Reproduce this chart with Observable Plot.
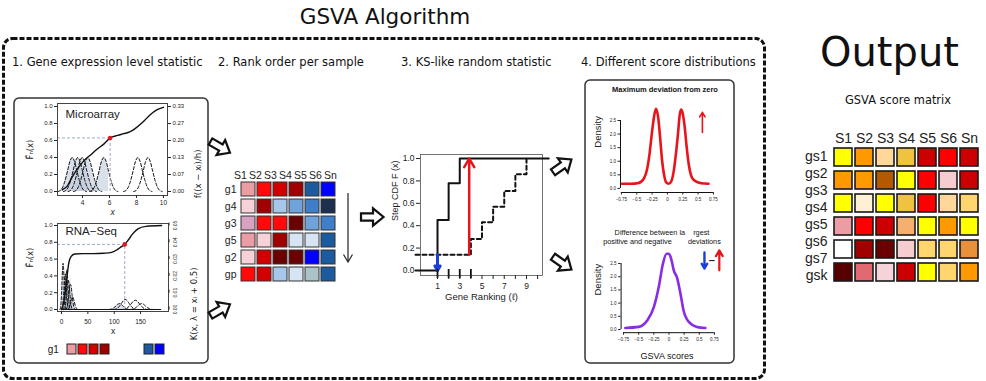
<!DOCTYPE html>
<html>
<head>
<meta charset="utf-8">
<script src="https://cdn.jsdelivr.net/npm/d3@7"></script>
<script src="https://cdn.jsdelivr.net/npm/@observablehq/plot@0.6"></script>
<style>
html, body { margin: 0; padding: 0; background: #fff; }
#root { position: relative; width: 986px; height: 381px; overflow: hidden; background: #fff; }
#root svg { display: block; }
.t { position: absolute; white-space: pre; color: #111; }
</style>
</head>
<body>
<div id="root"></div>
<script>
// ================= DATA =================
const mainTitle = "GSVA Algorithm";
const outputTitle = "Output";
const sectionTitles = ["1. Gene expression level statistic", "2. Rank order per sample", "3. KS-like random statistic", "4. Different score distributions"];
const matrixTitle = "GSVA score matrix";

// shared kernel profile (read from the bumps, normalised to peak 1)
const kernelOffsets = [-1, -0.833, -0.667, -0.5, -0.333, -0.167, 0, 0.167, 0.333, 0.5, 0.667, 0.833, 1];
const kernelShape   = [0, 0.03, 0.13, 0.33, 0.6, 0.88, 1, 0.88, 0.6, 0.33, 0.13, 0.03, 0];

// Panel 1a: microarray
const maX = [2.5, 2.9, 3.2, 3.6, 4.1, 4.6, 5.1, 5.6, 6.05, 6.6, 7.05, 7.5, 7.9, 8.5, 9.0, 9.5, 10.0];
const maF = [0.02, 0.07, 0.16, 0.26, 0.36, 0.43, 0.5, 0.56, 0.63, 0.66, 0.68, 0.7, 0.74, 0.82, 0.9, 0.96, 0.99];
const maQuery = [6.05];
const maQueryF = [0.63];
const maKernelCenters = [3.24, 3.65, 3.98, 4.39, 5.58, 8.1, 8.85];
const maKernelPeaks = [0.4, 0.4, 0.4, 0.4, 0.4, 0.4, 0.4];
const maKernelHalfWidths = [1.05, 1.05, 1.05, 1.05, 1.05, 1.05, 1.05];
const maXTicks = [4, 6, 8, 10];
const fTicks = [0, 0.2, 0.4, 0.6, 0.8, 1.0];
const fTickLabels = ["0.0", "0.2", "0.4", "0.6", "0.8", "1.0"];
const maKernelTickLabels = ["0.00", "0.07", "0.13", "0.20", "0.27", "0.33"];

// Panel 1b: RNA-Seq
const rnaX = [0, 4, 8, 11, 14, 18, 25, 40, 60, 80, 95, 105, 113, 120, 127, 135, 145, 160, 190];
const rnaF = [0, 0.08, 0.25, 0.42, 0.56, 0.63, 0.66, 0.665, 0.665, 0.67, 0.68, 0.71, 0.745, 0.775, 0.83, 0.9, 0.96, 0.99, 1.0];
const rnaQuery = [120];
const rnaQueryF = [0.775];
const rnaKernelCenters = [3, 7, 10, 13, 17, 21, 110, 121, 140, 152];
const rnaKernelPeaks = [0.55, 0.42, 0.47, 0.35, 0.3, 0.15, 0.07, 0.12, 0.11, 0.07];
const rnaKernelHalfWidths = [6, 7, 7, 8, 9, 10, 20, 22, 24, 22];
const rnaXTicks = [0, 50, 100, 150];
const rnaKernelTickLabels = ["0.00", "0.01", "0.02", "0.03", "0.04", "0.05"];

// Panel 2: rank order per sample (colour levels)
const rankHeaders = ["S1", "S2", "S3", "S4", "S5", "S6", "Sn"];
const rankCols = ["S1", "S2", "S3", "S4", "S5", "Sn"];
const rankGenes = ["g1", "g4", "g3", "g5", "g2", "gp"];
const rank_g1 = [1, 2, 3, 4, -4, -5];
const rank_g4 = [0, 4, -1, -2, -3, -6];
const rank_g3 = [0.8, 2, 2, 5, -2, -3];
const rank_g5 = [1, 0, 4, -0.5, -0.5, -4];
const rank_g2 = [0, 3, 5, 5, -5, -4];
const rank_gp = [2, 3, -1, -0.5, -0.7, -4];
const rankLevels = [5, 4, 3, 2, 1, 0.8, 0, -0.5, -0.7, -1, -2, -3, -4, -5, -6];
const rankPalette = ["#6a0000", "#a00000", "#d20000", "#ff0a0a", "#ec9ca4", "#d9a2c2", "#f6d2d8", "#d6e4f4", "#a9c3c8", "#a6c6ea", "#70a2dc", "#3f7ec8", "#1b5b9e", "#0000ff", "#1b2f4f"];
const legendSlots = ["S1", "S2", "S3", "S4", "…1", "…2", "…3", "S5", "Sn"];

// Panel 3: KS-like random walk
const ksTicks = [1, 2, 3, 4, 5, 6, 7, 8, 9, 10];
const ksTickLabels = ["1", "", "3", "", "5", "", "7", "", "9", ""];
const geneSetRanks = [1, 2, 3, 4];
const inSetX = [-0.98, 1, 2, 3, 11];
const inSetF = [0, 0.45, 0.78, 1.0, 1.0];
const outSetX = [-0.98, 4, 5, 6, 7, 8, 9];
const outSetF = [0.14, 0.28, 0.43, 0.57, 0.71, 0.86, 1.0];
const maxPosDev = [{x: 3.85, from: 0.14, to: 1.0}];
const maxNegDev = [{x: 1, from: 0.14, to: 0.0}];

// Panel 4: score distributions
const dens1X = [-0.74, -0.6, -0.47, -0.38, -0.33, -0.29, -0.25, -0.21, -0.185, -0.15, -0.12, -0.09, -0.05, -0.02, 0.02, 0.06, 0.1, 0.14, 0.17, 0.2, 0.22, 0.25, 0.28, 0.31, 0.35, 0.4, 0.47, 0.55, 0.67];
const dens1Y = [0.17, 0.17, 0.2, 0.38, 0.72, 1.3, 2.1, 2.75, 2.93, 2.6, 1.9, 1.1, 0.45, 0.22, 0.17, 0.25, 0.6, 1.3, 1.95, 2.7, 2.9, 2.75, 2.3, 1.6, 0.85, 0.4, 0.25, 0.19, 0.17];
const dens2X = [-0.72, -0.5, -0.36, -0.25, -0.17, -0.1, -0.04, 0.0, 0.04, 0.08, 0.13, 0.19, 0.24, 0.33, 0.46, 0.6];
const dens2Y = [0.06, 0.1, 0.34, 0.85, 1.6, 2.49, 2.87, 2.87, 2.64, 2.23, 1.98, 1.35, 0.72, 0.28, 0.1, 0.06];
const densXTicks = [-0.75, -0.5, -0.25, 0, 0.25, 0.5, 0.75];
const densXTickLabels = ["−0.75", "−0.5", "−0.25", "0", "0.25", "0.5", "0.75"];
const densYTicks = [0, 0.5, 1.0, 1.5, 2.0, 2.5];
const densYTickLabels = ["0.0", "0.5", "1.0", "1.5", "2.0", "2.5"];
const upArrow1 = [{x: 0.57, from: 2.06, to: 2.8}];
const downArrow2 = [{x: 0.585, from: 2.92, to: 2.31}];
const upArrow2 = [{x: 0.83, from: 2.24, to: 3.0}];

// Output matrix
const outCols = ["S1", "S2", "S3", "S4", "S5", "S6", "Sn"];
const outRowLabels = ["gs1", "gs2", "gs3", "gs4", "gs5", "gs6", "gs7", "gsk"];
const outRowIds = ["r1", "r2", "r3", "r4", "r5", "r6"];
const out_r1 = ["Y", "O", "Pe", "G", "DR", "R", "DR"];
const out_r2 = ["O", "O", "Br", "Y", "R", "Pk", "DR"];
const out_r3 = ["Y", "Cr", "Y", "G", "R", "Pe", "LG"];
const out_r4 = ["P", "R", "DR", "PO", "Y", "O", "Y"];
const out_r5 = ["W", "VDR", "BR", "Pk", "LG", "LG", "DO"];
const out_r6 = ["BL", "S", "Pk2", "DR", "Y", "LG", "O"];
const outCodes = ["Y", "Cr", "W", "Pe", "LG", "G", "PO", "O", "DO", "Br", "Pk", "Pk2", "P", "S", "R", "DR", "VDR", "BR", "BL"];
const outPalette = ["#ffff00", "#fff0d2", "#ffffff", "#ffd79a", "#ffd56e", "#efc33f", "#f5b070", "#ff9900", "#e8913a", "#b35a00", "#f5cdd0", "#f6d3d8", "#ee9ca4", "#e06a70", "#ff0000", "#cc0000", "#a00000", "#6a0000", "#580000"];

// ================= HELPERS =================
const root = document.getElementById("root");
const SANS = '"Liberation Sans", Arial, sans-serif';
const DEJAVU = '"DejaVu Sans", sans-serif';
const plotStyle = {fontFamily: SANS, background: "transparent", overflow: "visible", color: "#222"};
function place(node, left, top) {
  const d = document.createElement("div");
  d.style.cssText = `position:absolute;left:${left}px;top:${top}px;`;
  d.appendChild(node);
  root.appendChild(d);
}
function text(str, css) {
  const d = document.createElement("div");
  d.className = "t";
  d.textContent = str;
  d.style.cssText += css;
  root.appendChild(d);
}
function kernelPoints(centers, peaks, halfw) {
  return centers.flatMap((c, k) => kernelOffsets.map((o, j) => ({k, c, x: c + o * halfw[k], y: kernelShape[j] * peaks[k]})));
}
const lookup = (keys, labels) => (d) => labels[keys.indexOf(d)];

// ================= DECORATIONS =================
const blockArrow = (x, y, a) => `<path d="M-11,-3.6H1V-8.6L11.5,0L1,8.6V3.6H-11Z" transform="translate(${x},${y}) rotate(${a})" fill="#fff" stroke="#111" stroke-width="2.2" stroke-linejoin="miter"/>`;
root.insertAdjacentHTML("beforeend", `<svg width="986" height="381" style="position:absolute;left:0;top:0">
<rect x="3.5" y="38.5" width="761" height="340" rx="9" fill="none" stroke="#111" stroke-width="3" stroke-dasharray="5,2"/>
<rect x="14" y="98" width="194" height="265" rx="5" fill="none" stroke="#333" stroke-width="1.5"/>
<rect x="585" y="80" width="149" height="283" rx="5" fill="none" stroke="#333" stroke-width="1.5"/>
<path d="M348,193V262M343.5,254.5L348,262L352.5,254.5" fill="none" stroke="#333" stroke-width="1.3"/>
${blockArrow(220, 147, 30)}${blockArrow(220, 310, -30)}${blockArrow(372, 217, 0)}${blockArrow(562, 166, -35)}${blockArrow(562, 263, 35)}
</svg>`);

// ================= TEXT =================
text(mainTitle, `left:0;width:770px;text-align:center;top:7px;font:21.5px/20px ${DEJAVU};`);
text(outputTitle, `left:820px;top:32px;font:40px/40px ${DEJAVU};`);
text(sectionTitles[0], `left:12px;top:55.5px;font:11.5px/13px ${DEJAVU};`);
text(sectionTitles[1], `left:218px;top:55.5px;font:11.5px/13px ${DEJAVU};`);
text(sectionTitles[2], `left:401px;top:55.5px;font:11.5px/13px ${DEJAVU};`);
text(sectionTitles[3], `left:581px;top:55.5px;font:11.5px/13px ${DEJAVU};`);
text(matrixTitle, `left:800px;width:196px;text-align:center;top:94px;font:11.4px/13px ${DEJAVU};`);
text("Maximum deviation from zero", `left:590px;width:150px;text-align:center;top:84.5px;font:bold 7.5px/9px ${SANS};`);
text("Difference between la    rgest\npositive and negative        deviations", `left:587px;width:150px;text-align:center;top:227.5px;font:7.3px/9px ${SANS};`);
text("GSVA scores", `left:617px;width:100px;text-align:center;top:350px;font:9px/12px ${SANS};`);

// ================= PANEL 1a: MICROARRAY =================
{
  const curve = maX.map((x, i) => ({x, F: maF[i]}));
  const K = kernelPoints(maKernelCenters, maKernelPeaks, maKernelHalfWidths);
  const shade = K.filter(d => d.c <= maQuery[0] && d.x <= maQuery[0]);
  const xDomain = [2.15, 10.3];
  const q = maQuery.map((x, i) => ({x, F: maQueryF[i]}));
  place(Plot.plot({
    width: 192, height: 124, marginLeft: 43, marginRight: 39, marginTop: 5, marginBottom: 27,
    style: plotStyle,
    x: {domain: xDomain}, y: {domain: [-0.047, 1.035]},
    marks: [
      Plot.areaY(shade, {x: "x", y: "y", z: "k", fill: "#c2ccdb", fillOpacity: 0.6, curve: "monotone-x"}),
      Plot.line(K, {x: "x", y: "y", z: "k", stroke: "#111", strokeWidth: 1, strokeDasharray: "3,2", curve: "monotone-x"}),
      Plot.ruleY(q, {y: "F", x1: xDomain[0], x2: "x", stroke: "#9eaac6", strokeDasharray: "3,2"}),
      Plot.ruleX(q, {x: "x", y1: 0, y2: "F", stroke: "#9eaac6", strokeDasharray: "3,2"}),
      Plot.line(curve, {x: "x", y: "F", stroke: "#111", strokeWidth: 1.4, curve: "monotone-x"}),
      Plot.dot(q, {x: "x", y: "F", r: 2.3, fill: "#e3161c"}),
      Plot.frame({stroke: "#444"}),
      Plot.axisY({ticks: fTicks, tickFormat: lookup(fTicks, fTickLabels), tickSize: 3, tickPadding: 2, fontSize: 6, label: null}),
      Plot.axisY({anchor: "right", ticks: fTicks, tickFormat: lookup(fTicks, maKernelTickLabels), tickSize: 3, tickPadding: 2, fontSize: 6, label: null}),
      Plot.axisX({ticks: maXTicks, tickSize: 3, tickPadding: 1.5, fontSize: 6.5, label: null}),
      Plot.text(["Microarray"], {frameAnchor: "top-left", text: d => d, textAnchor: "start", lineAnchor: "top", dx: 8, dy: 6, fontSize: 11.5}),
      Plot.text(["F̂ₙ(x)"], {frameAnchor: "left", text: d => d, rotate: -90, dx: -27, dy: 10, fontSize: 8.5, fontFamily: DEJAVU}),
      Plot.text(["f((x − xᵢ)/h)"], {frameAnchor: "right", text: d => d, rotate: -90, dx: 31, fontSize: 8.5, fontFamily: DEJAVU}),
      Plot.text(["x"], {frameAnchor: "bottom", text: d => d, dy: 19, fontStyle: "italic", fontSize: 8.5})
    ]
  }), 14, 98);
}

// ================= PANEL 1b: RNA-SEQ =================
{
  const curve = rnaX.map((x, i) => ({x, F: rnaF[i]}));
  const K = kernelPoints(rnaKernelCenters, rnaKernelPeaks, rnaKernelHalfWidths);
  const shade = K.filter(d => d.c <= rnaQuery[0] && d.x <= rnaQuery[0]);
  const xDomain = [-7.6, 203];
  const q = rnaQuery.map((x, i) => ({x, F: rnaQueryF[i]}));
  place(Plot.plot({
    width: 192, height: 120, marginLeft: 43, marginRight: 38, marginTop: 5, marginBottom: 27,
    style: plotStyle,
    x: {domain: xDomain}, y: {domain: [-0.024, 1.024]},
    marks: [
      Plot.areaY(shade, {x: "x", y: "y", z: "k", fill: "#c2ccdb", fillOpacity: 0.6, curve: "monotone-x"}),
      Plot.line(K, {x: "x", y: "y", z: "k", stroke: "#111", strokeWidth: 1, strokeDasharray: "3,2", curve: "monotone-x"}),
      Plot.ruleY([0], {x1: rnaX[0], x2: rnaX[rnaX.length - 1], stroke: "#111", strokeWidth: 1}),
      Plot.ruleY(q, {y: "F", x1: xDomain[0], x2: "x", stroke: "#9eaac6", strokeDasharray: "3,2"}),
      Plot.ruleX(q, {x: "x", y1: 0, y2: "F", stroke: "#9eaac6", strokeDasharray: "3,2"}),
      Plot.line(curve, {x: "x", y: "F", stroke: "#111", strokeWidth: 1.4, curve: "monotone-x"}),
      Plot.dot(q, {x: "x", y: "F", r: 2.3, fill: "#e3161c"}),
      Plot.frame({stroke: "#444"}),
      Plot.axisY({ticks: fTicks, tickFormat: lookup(fTicks, fTickLabels), tickSize: 3, tickPadding: 2, fontSize: 6, label: null}),
      Plot.axisY({anchor: "right", ticks: fTicks, tickFormat: lookup(fTicks, rnaKernelTickLabels), tickSize: 3, tickPadding: 4, fontSize: 5, rotate: -90, textAnchor: "middle", label: null}),
      Plot.axisX({ticks: rnaXTicks, tickSize: 3, tickPadding: 5, fontSize: 6.5, label: null}),
      Plot.text(["RNA−Seq"], {frameAnchor: "top-left", text: d => d, textAnchor: "start", lineAnchor: "top", dx: 8, dy: 3, fontSize: 11.5}),
      Plot.text(["F̂ₙ(x)"], {frameAnchor: "left", text: d => d, rotate: -90, dx: -27, fontSize: 8.5, fontFamily: DEJAVU}),
      Plot.text(["K(x, λ = xᵢ + 0.5)"], {frameAnchor: "right", text: d => d, rotate: -90, dx: 26, fontSize: 8.5, fontFamily: DEJAVU}),
      Plot.text(["x"], {frameAnchor: "bottom", text: d => d, dy: 22, fontSize: 8.5})
    ]
  }), 14, 218);
}

// ================= PANEL 1c: g1 legend =================
{
  const cells = rankCols.map((s, i) => ({g: "g1", s, v: rank_g1[i]}));
  place(Plot.plot({
    width: 140, height: 20, marginLeft: 34.3, marginRight: 3.9, marginTop: 5.3, marginBottom: 4,
    style: plotStyle,
    x: {domain: legendSlots, paddingInner: 0.15, paddingOuter: 0, axis: null},
    y: {domain: ["g1"], padding: 0},
    color: {type: "ordinal", domain: rankLevels, range: rankPalette},
    marks: [
      Plot.cell(cells, {x: "s", y: "g", fill: "v", stroke: "#222", strokeWidth: 1}),
      Plot.axisY({tickSize: 0, tickPadding: 6, fontSize: 10, label: null})
    ]
  }), 30, 338);
}

// ================= PANEL 2: RANK HEATMAP =================
{
  const rows = [rank_g1, rank_g4, rank_g3, rank_g5, rank_g2, rank_gp];
  const cells = rows.flatMap((vals, r) => vals.map((v, i) => ({g: rankGenes[r], s: rankCols[i], v})));
  place(Plot.plot({
    width: 134, height: 106, marginLeft: 34, marginRight: 2, marginTop: 4, marginBottom: 2,
    style: plotStyle,
    x: {domain: rankCols, paddingInner: 0.14, paddingOuter: 0, axis: null},
    y: {domain: rankGenes, paddingInner: 0.16, paddingOuter: 0},
    color: {type: "ordinal", domain: rankLevels, range: rankPalette},
    marks: [
      Plot.cell(cells, {x: "s", y: "g", fill: "v", stroke: "#333", strokeWidth: 1}),
      Plot.axisY({tickSize: 0, tickPadding: 3, fontSize: 10.5, label: null})
    ]
  }), 205, 178);
  place(Plot.plot({
    width: 115, height: 18, marginLeft: 10, marginRight: 12.3, marginTop: 0, marginBottom: 0,
    style: plotStyle,
    x: {type: "point", domain: rankHeaders, padding: 0, axis: null},
    marks: [Plot.text(rankHeaders, {x: d => d, text: d => d, frameAnchor: "middle", fontSize: 10.5})]
  }), 229, 166);
}

// ================= PANEL 3: KS PLOT =================
{
  const inSet = inSetX.map((x, i) => ({x, F: inSetF[i]}));
  const outSet = outSetX.map((x, i) => ({x, F: outSetF[i]}));
  place(Plot.plot({
    width: 175, height: 165, marginLeft: 40, marginRight: 13, marginTop: 9, marginBottom: 35,
    style: plotStyle,
    x: {domain: [-0.53, 10.44]}, y: {domain: [-0.045, 1.036]},
    marks: [
      Plot.frame({stroke: "#666", strokeWidth: 0.9}),
      Plot.line(outSet, {x: "x", y: "F", curve: "step-after", stroke: "#111", strokeWidth: 2, strokeDasharray: "4,3"}),
      Plot.line(inSet, {x: "x", y: "F", curve: "step-after", stroke: "#111", strokeWidth: 2}),
      Plot.arrow(maxPosDev, {x1: "x", x2: "x", y1: "from", y2: "to", stroke: "#e3161c", strokeWidth: 2.5, headLength: 6}),
      Plot.arrow(maxNegDev, {x1: "x", x2: "x", y1: "from", y2: "to", stroke: "#1c3fd6", strokeWidth: 3, headLength: 5}),
      Plot.tickX(geneSetRanks, {x: d => d, insetTop: 115, insetBottom: -3, stroke: "#111", strokeWidth: 1.8}),
      Plot.axisY({ticks: fTicks, tickFormat: lookup(fTicks, fTickLabels), tickSize: 4, tickPadding: 2, fontSize: 8.5, label: null}),
      Plot.axisX({ticks: ksTicks, tickFormat: lookup(ksTicks, ksTickLabels), tickSize: 4, tickPadding: 3, fontSize: 8.5, label: null}),
      Plot.text(["Step CDF F (x)"], {frameAnchor: "left", text: d => d, rotate: -90, dx: -25, dy: 6, fontSize: 9}),
      Plot.text(["Gene Ranking (ℓ)"], {frameAnchor: "bottom", text: d => d, dy: 24, fontSize: 9.5})
    ]
  }), 380, 145);
}

// ================= PANEL 4: DENSITIES =================
{
  const d1 = dens1X.map((x, i) => ({x, y: dens1Y[i]}));
  const xDomain = [-0.765, 0.8], yDomain = [-0.15, 3.0];
  place(Plot.plot({
    width: 145, height: 115, marginLeft: 34, marginRight: 15, marginTop: 10.4, marginBottom: 19,
    style: plotStyle,
    x: {domain: xDomain}, y: {domain: yDomain},
    marks: [
      Plot.ruleX([xDomain[0]], {y1: densYTicks[0], y2: densYTicks[densYTicks.length - 1], stroke: "#111"}),
      Plot.ruleY([yDomain[0]], {x1: densXTicks[0], x2: densXTicks[densXTicks.length - 1], stroke: "#111"}),
      Plot.axisY({ticks: densYTicks, tickFormat: lookup(densYTicks, densYTickLabels), tickSize: 2.5, tickPadding: 2, fontSize: 4.5, label: null}),
      Plot.axisX({ticks: densXTicks, tickFormat: lookup(densXTicks, densXTickLabels), tickSize: 2.5, tickPadding: 3, fontSize: 4.5, label: null}),
      Plot.line(d1, {x: "x", y: "y", stroke: "#e8141c", strokeWidth: 2.6, curve: "monotone-x"}),
      Plot.arrow(upArrow1, {x1: "x", x2: "x", y1: "from", y2: "to", stroke: "#e8141c", strokeWidth: 1.6, headLength: 5}),
      Plot.text(["Density"], {frameAnchor: "left", text: d => d, rotate: -90, dx: -23, dy: -2, fontSize: 9.5})
    ]
  }), 586, 96);
}
{
  const d2 = dens2X.map((x, i) => ({x, y: dens2Y[i]}));
  const xDomain = [-0.79, 0.8], yDomain = [-0.12, 3.0];
  place(Plot.plot({
    width: 145, height: 110, marginLeft: 34.6, marginRight: 14, marginTop: 4.8, marginBottom: 22.8,
    style: plotStyle,
    x: {domain: xDomain}, y: {domain: yDomain},
    marks: [
      Plot.ruleX([xDomain[0]], {y1: densYTicks[0], y2: densYTicks[densYTicks.length - 1], stroke: "#111"}),
      Plot.ruleY([yDomain[0]], {x1: densXTicks[0], x2: densXTicks[densXTicks.length - 1], stroke: "#111"}),
      Plot.axisY({ticks: densYTicks, tickFormat: lookup(densYTicks, densYTickLabels), tickSize: 2.5, tickPadding: 2, fontSize: 4.5, label: null}),
      Plot.axisX({ticks: densXTicks, tickFormat: lookup(densXTicks, densXTickLabels), tickSize: 2.5, tickPadding: 3, fontSize: 4.5, label: null}),
      Plot.line(d2, {x: "x", y: "y", stroke: "#8a2be6", strokeWidth: 2.6, curve: "monotone-x"}),
      Plot.arrow(downArrow2, {x1: "x", x2: "x", y1: "from", y2: "to", stroke: "#1c3fd6", strokeWidth: 2.4, headLength: 5}),
      Plot.arrow(upArrow2, {x1: "x", x2: "x", y1: "from", y2: "to", stroke: "#e8141c", strokeWidth: 2.2, headLength: 6}),
      Plot.text(["–"], {x: d => (downArrow2[0].x + upArrow2[0].x) / 2, y: d => 2.6, text: d => d, fontSize: 11, fontWeight: "bold"}),
      Plot.text(["Density"], {frameAnchor: "left", text: d => d, rotate: -90, dx: -23, dy: 4, fontSize: 9.5})
    ]
  }), 586, 245);
}

// ================= OUTPUT MATRIX =================
{
  const rows = [out_r1, out_r2, out_r3, out_r4, out_r5, out_r6];
  const cells = rows.flatMap((vals, r) => vals.map((v, i) => ({r: outRowIds[r], s: outCols[i], v})));
  place(Plot.plot({
    width: 196, height: 170, marginLeft: 42, marginRight: 6, marginTop: 22, marginBottom: 12,
    style: plotStyle,
    x: {domain: outCols, paddingInner: 0.15, paddingOuter: 0},
    y: {domain: outRowIds, paddingInner: 0.2, paddingOuter: 0, axis: null},
    color: {type: "ordinal", domain: outCodes, range: outPalette},
    marks: [
      Plot.cell(cells, {x: "s", y: "r", fill: "v", stroke: "#1a1a1a", strokeWidth: 1.6}),
      Plot.axisX({anchor: "top", tickSize: 0, tickPadding: 5, fontSize: 14, label: null})
    ]
  }), 790, 125);
  place(Plot.plot({
    width: 45, height: 150, marginLeft: 0, marginRight: 3, marginTop: 13, marginBottom: 12,
    style: plotStyle,
    y: {type: "point", domain: outRowLabels, padding: 0, axis: null},
    marks: [Plot.text(outRowLabels, {y: d => d, text: d => d, frameAnchor: "right", textAnchor: "end", fontSize: 14})]
  }), 785, 140);
}
</script>
</body>
</html>
